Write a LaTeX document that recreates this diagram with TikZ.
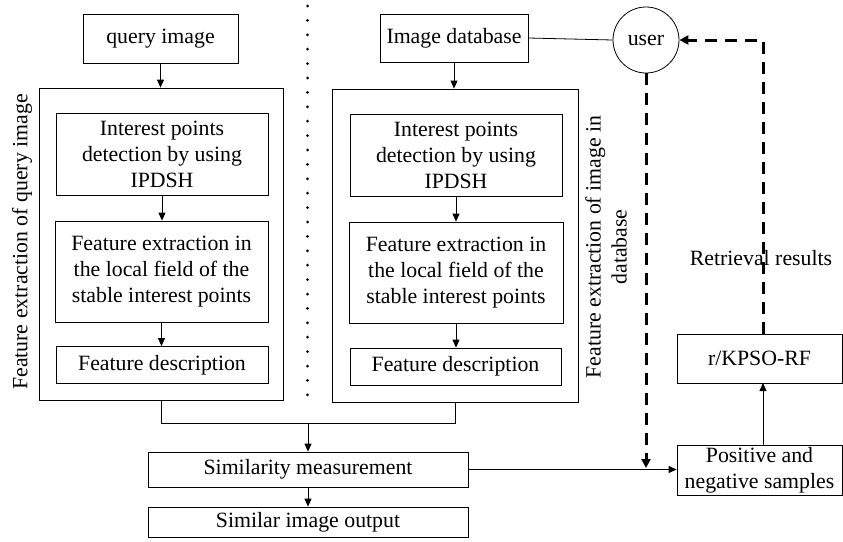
\documentclass[tikz,border=0pt]{standalone}
\usepackage{fontspec}
\setmainfont{Liberation Serif}
\usetikzlibrary{arrows.meta}
\begin{document}
\begin{tikzpicture}[x=1pt,y=-1pt,
  every node/.style={font=\fontsize{21.8}{26}\selectfont},
  box/.style={draw, line width=0.8pt, inner sep=0pt, align=center},
  arr/.style={line width=0.8pt, -{Triangle[length=8pt,width=7pt]}},
  plain/.style={line width=0.8pt},
  dashline/.style={line width=3pt, dash pattern=on 12pt off 8pt, -{Triangle[length=9pt,width=9pt]}},
  sidelabel/.style={rotate=90, align=center, inner sep=0pt}
]
\useasboundingbox (0,0) rectangle (843,541);

% left column
\node[box, minimum width=155pt, minimum height=49pt] (q) at (160.5,38.5) {query image};
\node[box, minimum width=244pt, minimum height=312pt] (oL) at (161,244) {};
\node[box, minimum width=212pt, minimum height=82pt] (i1L) at (162,154.5) {Interest points\\detection by using\\IPDSH};
\node[box, minimum width=213pt, minimum height=101pt] (f1L) at (161.5,271.5) {Feature extraction in\\the local field of the\\stable interest points};
\node[box, minimum width=212pt, minimum height=37pt] (dL) at (162,365) {Feature description};
\node[sidelabel] (labL) at (22,242) {Feature extraction of query image};

% right column
\node[box, minimum width=148pt, minimum height=48pt] (db) at (454,38) {Image database};
\node[box, minimum width=246pt, minimum height=313pt] (oR) at (455,245.5) {};
\node[box, minimum width=212pt, minimum height=82pt] (i1R) at (456,155) {Interest points\\detection by using\\IPDSH};
\node[box, minimum width=214pt, minimum height=101pt] (f1R) at (456,272.5) {Feature extraction in\\the local field of the\\stable interest points};
\node[box, minimum width=211pt, minimum height=37pt] (dR) at (455.5,366.5) {Feature description};
\node[sidelabel] (labR) at (606,247) {Feature extraction of image in\\database};

% user and feedback
\node[draw, circle, line width=0.8pt, minimum size=66pt, inner sep=0pt] (user) at (646,40) {user};
\node[box, minimum width=165pt, minimum height=49pt] (rk) at (759.5,358.5) {r/KPSO-RF};
\node[box, minimum width=165pt, minimum height=50pt] (pn) at (759.5,470) {Positive and\\negative samples};
\node (ret) at (761,258) {Retrieval results};

% bottom
\node[box, minimum width=320pt, minimum height=35pt] (sm) at (308,469.5) {Similarity measurement};
\node[box, minimum width=320pt, minimum height=30pt] (so) at (308,522) {Similar image output};

% dotted separator
\draw[line width=3pt, line cap=round, dash pattern=on 0pt off 14.4pt] (307.5,6) -- (307.5,403);

% arrows
\draw[arr] (q.south) -- (q.south |- oL.north);
\draw[arr] (i1L.south) -- (i1L.south |- f1L.north);
\draw[arr] (f1L.south) -- (f1L.south |- dL.north);
\draw[arr] (db.south) -- (db.south |- oR.north);
\draw[arr] (i1R.south) -- (i1R.south |- f1R.north);
\draw[arr] (f1R.south) -- (f1R.south |- dR.north);

\coordinate (jn) at (308,423);
\draw[plain] (oL.south) -- (oL.south |- jn) -- (oR.south |- jn) -- (oR.south);
\draw[arr] (jn) -- (sm.north);
\draw[arr] (sm.south) -- (so.north);
\draw[arr] (sm.east) -- (pn.west |- sm.east);

\draw[plain] (db.east) -- (user.west);

\coordinate (ua) at (646,468);
\draw[dashline] (user.south) -- (ua);

\coordinate (rkt) at (763,334);
\coordinate (rkb) at (763,383);
\coordinate (pnt) at (763,445);
\coordinate (corner) at (763,40);
\draw[arr] (pnt) -- (rkb);
\draw[dashline] (rkt) -- (corner) -- (user.east);
\end{tikzpicture}
\end{document}
